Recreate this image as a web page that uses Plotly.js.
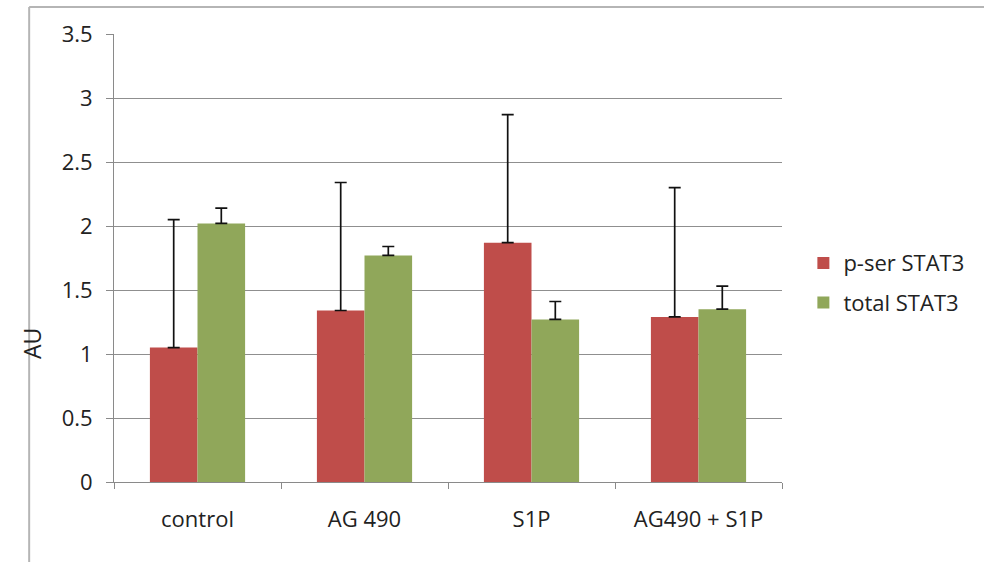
<!DOCTYPE html>
<html>
<head>
<meta charset="utf-8">
<script src="https://cdn.plot.ly/plotly-3.0.1.min.js"></script>
<style>html,body{margin:0;padding:0;background:#fff;}#chart{width:984px;height:562px;}</style>
</head>
<body>
<div id="chart"></div>
<script>
var categories = ["control", "AG 490", "S1P", "AG490 + S1P"];
var pserValues = [1.05, 1.34, 1.87, 1.29];
var pserErrors = [1.00, 1.00, 1.00, 1.01];
var totalValues = [2.02, 1.77, 1.27, 1.35];
var totalErrors = [0.12, 0.07, 0.14, 0.18];
var seriesNames = ["p-ser STAT3", "total STAT3"];
var yTicks = [0, 0.5, 1, 1.5, 2, 2.5, 3, 3.5];
var yTickLabels = ["0", "0.5", "1", "1.5", "2", "2.5", "3", "3.5"];

var FONT = "'Open Sans', sans-serif";
var zeros = categories.map(function(){ return 0; });

var traces = [
  {
    type: "bar", x: categories, y: pserValues, name: seriesNames[0],
    legendgroup: "a",
    marker: {color: "#BF4D4A"},
    error_y: {type: "data", symmetric: false, array: pserErrors, arrayminus: zeros,
              color: "#111", thickness: 1.7, width: 6, visible: true}
  },
  {
    type: "bar", x: categories, y: totalValues, name: seriesNames[1],
    legendgroup: "b",
    marker: {color: "#90A75A"},
    error_y: {type: "data", symmetric: false, array: totalErrors, arrayminus: zeros,
              color: "#111", thickness: 1.7, width: 6, visible: true}
  }
];

var layout = {
  width: 984, height: 562,
  margin: {l: 114, r: 202, t: 34, b: 80},
  paper_bgcolor: "#fff", plot_bgcolor: "#fff",
  barmode: "group", bargap: 0.43, bargroupgap: 0,
  showlegend: true,
  font: {family: FONT, size: 20, color: "#222"},
  xaxis: {
    type: "category",
    showgrid: false,
    showline: true, linecolor: "#8a8a8a", linewidth: 1,
    ticks: "outside", tickcolor: "#8a8a8a", ticklen: 6, tickson: "boundaries",
    tickfont: {family: FONT, size: 22, color: "#222"},
    ticklabelstandoff: 18,
    zeroline: false
  },
  yaxis: {
    range: [0, 3.5],
    tickvals: yTicks, ticktext: yTickLabels,
    showgrid: true, gridcolor: "#8f8f8f", gridwidth: 1,
    showline: true, linecolor: "#8a8a8a", linewidth: 1,
    ticks: "outside", tickcolor: "#8a8a8a", ticklen: 7,
    tickfont: {family: FONT, size: 22, color: "#222"},
    ticklabelstandoff: 9,
    zeroline: false
  },
  legend: {
    x: 1.032, xanchor: "left", y: 0.444, yanchor: "middle",
    font: {family: FONT, size: 22, color: "#222"},
    traceorder: "grouped", tracegroupgap: 8,
    itemwidth: 30, bgcolor: "rgba(0,0,0,0)"
  },
  annotations: [
    {text: "AU", xref: "paper", yref: "paper", x: -0.123, y: 0.31, xanchor: "center", yanchor: "middle",
     textangle: -90, showarrow: false, font: {family: FONT, size: 23, color: "#222"}}
  ],
  shapes: [
    {type: "line", xref: "paper", yref: "paper", x0: -0.127, x1: -0.127, y0: 1.06, y1: -0.2,
     line: {color: "#b5b5b5", width: 2}},
    {type: "line", xref: "paper", yref: "paper", x0: -0.127, x1: 1.31, y0: 1.06, y1: 1.06,
     line: {color: "#b5b5b5", width: 2}}
  ]
};

Plotly.newPlot("chart", traces, layout, {displayModeBar: false, staticPlot: true});
</script>
</body>
</html>
